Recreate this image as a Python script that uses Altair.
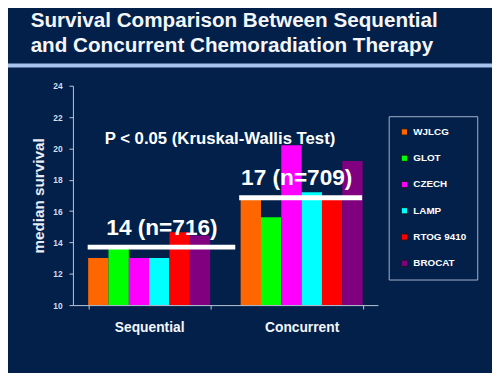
import altair as alt
import pandas as pd

groups = ["Sequential", "Concurrent"]
studies = ["WJLCG", "GLOT", "CZECH", "LAMP", "RTOG 9410", "BROCAT"]
colors = ["#FF6600", "#00FF00", "#FF00FF", "#00FFFF", "#FF0000", "#800080"]
sequential_vals = [13.0, 13.8, 13.0, 13.0, 14.65, 14.45]
concurrent_vals = [16.7, 15.6, 20.2, 17.2, 16.7, 19.2]
mean_vals = [13.7, 16.85]
mean_labels = ["14 (n=716)", "17 (n=709)"]
title_lines = ["Survival Comparison Between Sequential", "and Concurrent Chemoradiation Therapy"]
y_ticks = [10, 12, 14, 16, 18, 20, 22, 24]

rows = []
for s, v in zip(studies, sequential_vals):
    rows.append({"group": "Sequential", "study": s, "value": v})
for s, v in zip(studies, concurrent_vals):
    rows.append({"group": "Concurrent", "study": s, "value": v})
df = pd.DataFrame(rows)

means = pd.DataFrame({"group": groups, "mean": mean_vals, "label": mean_labels})

BG = "#02204A"
FONT = "Liberation Sans"
W, H = 310, 223

xscale = alt.Scale(domain=groups, paddingInner=0.2, paddingOuter=0.1)
yscale = alt.Scale(domain=[10, 24], nice=False, zero=False)

x_axis = alt.Axis(labelAngle=0, labelFont=FONT, labelFontSize=14,
                  labelFontWeight="bold", labelColor="#F4F6FA",
                  labelPadding=12, tickBand="extent", tickColor="#C0C8D8",
                  domainColor="#C0C8D8", tickSize=4)
y_axis = alt.Axis(values=y_ticks, grid=False, labelOverlap=False,
                  labelFont=FONT, labelFontSize=8.5, labelFontWeight="bold",
                  labelColor="#D8DEEA", tickColor="#C0C8D8", tickSize=4,
                  domainColor="#C0C8D8", titleFont=FONT, titleFontSize=15.5,
                  titleFontWeight="bold", titleColor="#E8ECF4",
                  titlePadding=6, labelPadding=7)

def X(field):
    return alt.X(field, scale=xscale, sort=groups, title=None, axis=x_axis)

def Y(field):
    return alt.Y(field, scale=yscale, title="median survival", axis=y_axis)

bars = alt.Chart(df).mark_bar(size=20.7, clip=True).encode(
    x=X("group:N"),
    xOffset=alt.XOffset("study:N", sort=studies,
                        scale=alt.Scale(paddingInner=0, paddingOuter=0)),
    y=Y("value:Q"),
    color=alt.Color("study:N", sort=studies,
                    scale=alt.Scale(domain=studies, range=colors),
                    legend=alt.Legend(title=None, orient="none", legendX=321, legendY=31,
                                      labelFont=FONT, labelFontSize=10, labelFontWeight="bold",
                                      labelColor="#FFFFFF", symbolType="square",
                                      symbolSize=40, symbolStrokeColor="#1A1A1A",
                                      symbolStrokeWidth=1, rowPadding=14.7,
                                      strokeColor="#A8B4CC", padding=11,
                                      labelOffset=4, fillColor=BG)),
)

seq_line = alt.Chart(means[means.group == "Sequential"]).mark_rule(
    color="white", strokeWidth=5, strokeCap="butt"
).encode(x=alt.value(15), x2=alt.value(165), y=Y("mean:Q"))

con_line = alt.Chart(means[means.group == "Concurrent"]).mark_rule(
    color="white", strokeWidth=5, strokeCap="butt"
).encode(x=alt.value(169), x2=alt.value(294), y=Y("mean:Q"))

seq_text = alt.Chart(means[means.group == "Sequential"]).mark_text(
    font=FONT, fontSize=23, fontWeight="bold", color="white", dx=13, dy=-19,
    baseline="middle"
).encode(x=X("group:N"), y=Y("mean:Q"), text="label:N")

con_text = alt.Chart(means[means.group == "Concurrent"]).mark_text(
    font=FONT, fontSize=23, fontWeight="bold", color="white", dx=-5, dy=-20,
    baseline="middle"
).encode(x=X("group:N"), y=Y("mean:Q"), text="label:N")

p_text = alt.Chart(pd.DataFrame({"t": ["P < 0.05 (Kruskal-Wallis Test)"]})).mark_text(
    font=FONT, fontSize=17, fontWeight="bold", color="white", baseline="middle"
).encode(x=alt.value(149.5), y=alt.value(54), text="t:N")

title1 = alt.Chart(pd.DataFrame({"t": [title_lines[0]]})).mark_text(
    font=FONT, fontSize=21, fontWeight="bold", color="#F4F6FA", baseline="middle",
    align="left"
).encode(x=alt.value(-43), y=alt.value(-66), text="t:N")

title2 = alt.Chart(pd.DataFrame({"t": [title_lines[1]]})).mark_text(
    font=FONT, fontSize=21, fontWeight="bold", color="#F4F6FA", baseline="middle",
    align="left"
).encode(x=alt.value(-43), y=alt.value(-40), text="t:N")

title_rule = alt.Chart(pd.DataFrame({"a": [0]})).mark_rule(
    color="#A8C4EE", strokeWidth=4
).encode(x=alt.value(-66), x2=alt.value(426), y=alt.value(-20.5))

chart = alt.layer(bars, seq_line, con_line, seq_text, con_text, p_text,
                  title1, title2, title_rule).properties(
    width=W, height=H,
    autosize=alt.AutoSizeParams(type="none"),
    padding={"left": 66, "top": 76, "right": 116, "bottom": 66},
    background=BG,
).configure_view(stroke=None)

chart.save("out.html", embed_options={"renderer": "svg", "actions": False})
